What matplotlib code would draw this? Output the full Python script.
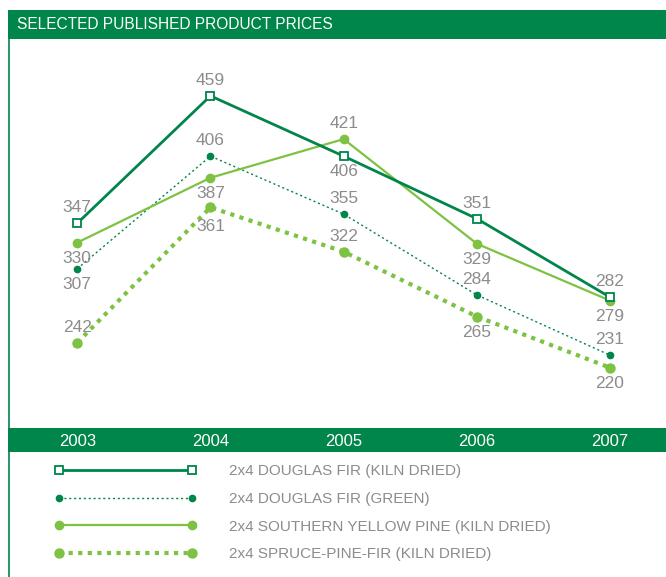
import matplotlib
matplotlib.use("Agg")
import matplotlib.pyplot as plt
from matplotlib.patches import Rectangle
from matplotlib.lines import Line2D
import matplotlib.transforms as mtransforms

plt.rcParams['font.family'] = ['Liberation Sans Narrow', 'Liberation Sans', 'DejaVu Sans']

years = ["2003", "2004", "2005", "2006", "2007"]
douglas_kd = [347, 459, 406, 351, 282]
douglas_green = [307, 406, 355, 284, 231]
syp_kd = [330, 387, 421, 329, 279]
spf_kd = [242, 361, 322, 265, 220]
series_names = ["2x4 DOUGLAS FIR (KILN DRIED)", "2x4 DOUGLAS FIR (GREEN)",
                "2x4 SOUTHERN YELLOW PINE (KILN DRIED)", "2x4 SPRUCE-PINE-FIR (KILN DRIED)"]
title = "SELECTED PUBLISHED PRODUCT PRICES"

DARK = "#00854A"
LIGHT = "#7DC242"
GRAY = "#8C8C8C"

W, H = 666, 577
fig = plt.figure(figsize=(W / 100, H / 100), dpi=100)
fig.patch.set_facecolor("white")

def px_rect(x0, y0, x1, y1):
    return [x0 / W, 1 - y1 / H, (x1 - x0) / W, (y1 - y0) / H]

# Title bar
fig.add_artist(Rectangle((8 / W, 1 - 39 / H), (W - 8) / W, 29 / H,
                         transform=fig.transFigure, facecolor=DARK, edgecolor="none"))
fig.text(17 / W, 1 - 24.5 / H, title, color="white", fontsize=11.2, va="center", ha="left")
# Left border line
fig.add_artist(Line2D([9 / W, 9 / W], [0, 1 - 39 / H], transform=fig.transFigure,
                      color=DARK, lw=1.2))

# Main plot
ax = fig.add_axes(px_rect(10, 39, 666, 428))
x = list(range(len(years)))
xl = (-0.505, 4.42)
ax.set_xlim(*xl)
ax.set_ylim(167, 509)
for s in ax.spines.values():
    s.set_visible(False)
ax.set_xticks([])
ax.set_yticks([])

l1, = ax.plot(x, douglas_kd, color=DARK, lw=2.0, marker="s", ms=5.5,
              mfc="white", mec=DARK, mew=1.3, label=series_names[0], zorder=5)
l2, = ax.plot(x, douglas_green, color=DARK, lw=1.0, ls=(0, (1.5, 2.0)), marker="o",
              ms=4.5, mfc=DARK, mec=DARK, label=series_names[1], zorder=4)
l3, = ax.plot(x, syp_kd, color=LIGHT, lw=1.6, marker="o", ms=6,
              mfc=LIGHT, mec=LIGHT, label=series_names[2], zorder=4)
l4, = ax.plot(x, spf_kd, color=LIGHT, lw=3.0, ls=(0, (1.0, 1.3)), marker="o", ms=6.5,
              mfc=LIGHT, mec=LIGHT, label=series_names[3], zorder=3)

placements = [
    [1, 1, -1, 1, 1],
    [-1, 1, 1, 1, 1],
    [-1, -1, 1, -1, -1],
    [1, -1.25, 1, -1, -1],
]
for vals, pl in zip([douglas_kd, douglas_green, syp_kd, spf_kd], placements):
    for xi, v, p in zip(x, vals, pl):
        ax.annotate(str(v), (xi, v), xytext=(0, 11.2 * p), textcoords="offset points",
                    ha="center", va="center", color=GRAY, fontsize=12.5, zorder=6)

# Axis band
axb = fig.add_axes(px_rect(8, 428, 666, 452))
axb.set_facecolor(DARK)
axb.set_xlim(xl[0] - 2 / 133.0, xl[1])
axb.set_ylim(0, 1)
for s in axb.spines.values():
    s.set_visible(False)
axb.set_xticks([])
axb.set_yticks([])
trans = mtransforms.blended_transform_factory(axb.transData, axb.transAxes)
for xi, yr in zip(x, years):
    axb.text(xi, 0.45, yr, transform=trans, ha="center", va="center",
             color="white", fontsize=12)

# Legend
leg = fig.legend(handles=[l1, l2, l3, l4], loc="upper left",
                 bbox_to_anchor=(48 / W, 1 - 458 / H), frameon=False,
                 numpoints=2, handlelength=9.3, handletextpad=2.15,
                 labelspacing=0.9, fontsize=11, borderaxespad=0)
for t in leg.get_texts():
    t.set_color(GRAY)

fig.savefig("out.png", dpi=100, facecolor="white")
